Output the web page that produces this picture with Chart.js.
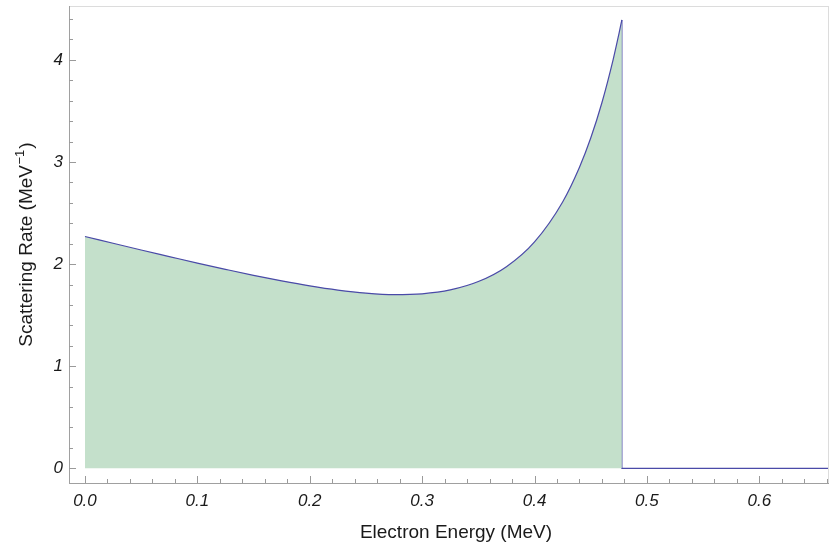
<!DOCTYPE html>
<html>
<head>
<meta charset="utf-8">
<script src="https://cdn.jsdelivr.net/npm/chart.js@4/dist/chart.umd.min.js"></script>
<style>html,body{margin:0;padding:0;background:#fff;}canvas{display:block;}</style>
</head>
<body>
<canvas id="c" width="829" height="546"></canvas>
<script>
// Curve (Electron Energy in MeV, Scattering Rate in MeV^-1)
const energies = [0, 0.025, 0.05, 0.075, 0.1, 0.125, 0.15, 0.175, 0.2, 0.225, 0.25, 0.275, 0.3, 0.325, 0.35, 0.375, 0.4, 0.425, 0.44, 0.45, 0.46, 0.47, 0.475, 0.4777];
const rates    = [2.27, 2.204, 2.138, 2.074, 2.010, 1.949, 1.890, 1.836, 1.787, 1.746, 1.716, 1.701, 1.709, 1.747, 1.829, 1.975, 2.218, 2.609, 2.949, 3.235, 3.583, 4.006, 4.251, 4.392];
// Compton edge drop and zero tail
const edgeEnergies = [0.4777, 0.4777, 0.662];
const edgeRates    = [4.392, 0, 0];
// Tick labels
const xTickValues = [0, 0.1, 0.2, 0.3, 0.4, 0.5, 0.6];
const yTickValues = [0, 1, 2, 3, 4];
const xMinorStep = 0.02;
const yMinorStep = 0.2;
const xTitle = 'Electron Energy (MeV)';
const yTitleMain = 'Scattering Rate (MeV';
const yTitleSup = '\u22121';
const yTitleEnd = ')';

const curveData = energies.map((e, i) => ({x: e, y: rates[i]}));
const edgeData = edgeEnergies.map((e, i) => ({x: e, y: edgeRates[i]}));

const FONT = "'Liberation Sans', Arial, Helvetica, sans-serif";

const framePlugin = {
  id: 'frame',
  afterDraw(chart) {
    const ctx = chart.ctx;
    const a = chart.chartArea;
    const xs = chart.scales.x, ys = chart.scales.y;
    ctx.save();
    // frame
    ctx.lineWidth = 1;
    ctx.strokeStyle = '#dcdcdc';
    ctx.beginPath();
    ctx.moveTo(a.left, a.top + 0.5); ctx.lineTo(a.right, a.top + 0.5);
    ctx.moveTo(a.right - 0.5, a.top); ctx.lineTo(a.right - 0.5, a.bottom);
    ctx.stroke();
    ctx.strokeStyle = '#a0a0a0';
    ctx.beginPath();
    ctx.moveTo(a.left + 0.5, a.top); ctx.lineTo(a.left + 0.5, a.bottom);
    ctx.moveTo(a.left, a.bottom + 0.5); ctx.lineTo(a.right, a.bottom + 0.5);
    ctx.stroke();
    // ticks (inward)
    ctx.strokeStyle = '#9a9a9a';
    ctx.beginPath();
    for (let k = 0; ; k++) {
      const v = k * xMinorStep;
      if (v > xs.max + 1e-9) break;
      const px = Math.round(xs.getPixelForValue(v)) + 0.5;
      const major = Math.abs(v * 10 - Math.round(v * 10)) < 1e-6;
      ctx.moveTo(px, a.bottom);
      ctx.lineTo(px, a.bottom - (major ? 7 : 4));
    }
    for (let k = 0; ; k++) {
      const v = k * yMinorStep;
      if (v > ys.max + 1e-9) break;
      const py = Math.round(ys.getPixelForValue(v)) + 0.5;
      const major = Math.abs(v - Math.round(v)) < 1e-6;
      ctx.moveTo(a.left, py);
      ctx.lineTo(a.left + (major ? 7 : 4), py);
    }
    ctx.stroke();
    // x axis title
    ctx.fillStyle = '#1a1a1a';
    ctx.font = '19px ' + FONT;
    ctx.textAlign = 'center';
    ctx.textBaseline = 'middle';
    ctx.fillText(xTitle, (a.left + a.right) / 2 + 7, 533);
    // y axis title with superscript
    ctx.textBaseline = 'alphabetic';
    ctx.textAlign = 'left';
    const mainFont = '19px ' + FONT;
    const supFont = '13px ' + FONT;
    ctx.font = mainFont;
    const w1 = ctx.measureText(yTitleMain).width;
    const w3 = ctx.measureText(yTitleEnd).width;
    ctx.font = supFont;
    const w2 = ctx.measureText(yTitleSup).width + 1.5;
    const total = w1 + w2 + w3;
    const cy = (a.top + a.bottom) / 2;
    ctx.translate(32, cy);
    ctx.rotate(-Math.PI / 2);
    let x0 = -total / 2;
    ctx.font = mainFont;
    ctx.fillText(yTitleMain, x0, 0);
    ctx.font = supFont;
    ctx.fillText(yTitleSup, x0 + w1 + 0.5, -8);
    ctx.font = mainFont;
    ctx.fillText(yTitleEnd, x0 + w1 + w2, 0);
    ctx.restore();
  }
};

new Chart(document.getElementById('c'), {
  type: 'line',
  data: {
    datasets: [
      {
        data: curveData,
        borderColor: '#4a4aa8',
        borderWidth: 1.2,
        backgroundColor: '#c4e0cb',
        fill: 'origin',
        pointRadius: 0,
        cubicInterpolationMode: 'monotone'
      },
      {
        data: edgeData,
        borderColor: '#4a4aa8',
        borderWidth: 1.2,
        fill: false,
        pointRadius: 0,
        tension: 0
      }
    ]
  },
  options: {
    responsive: false,
    animation: false,
    events: [],
    layout: {padding: {top: 6, right: 0, left: 0, bottom: 0}},
    plugins: {legend: {display: false}, tooltip: {enabled: false}},
    scales: {
      x: {
        type: 'linear',
        min: -0.0142,
        max: 0.662,
        grid: {display: false, drawTicks: false},
        border: {display: false},
        afterBuildTicks: s => { s.ticks = xTickValues.map(v => ({value: v})); },
        afterFit: s => { s.height = 63; s.paddingLeft = 0; s.paddingRight = 0; },
        ticks: {
          padding: 8,
          color: '#1a1a1a',
          font: {family: FONT, size: 17, style: 'italic'},
          maxRotation: 0,
          autoSkip: false,
          callback: v => Number(v).toFixed(1)
        },
        title: {display: false}
      },
      y: {
        type: 'linear',
        min: -0.144,
        max: 4.528,
        grid: {display: false, drawTicks: false},
        border: {display: false},
        afterBuildTicks: s => { s.ticks = yTickValues.map(v => ({value: v})); },
        afterFit: s => { s.width = 69; s.paddingTop = 0; s.paddingBottom = 0; },
        ticks: {
          padding: 6,
          color: '#1a1a1a',
          font: {family: FONT, size: 17, style: 'italic'},
          autoSkip: false,
          callback: v => String(v)
        },
        title: {display: false}
      }
    }
  },
  plugins: [framePlugin]
});
</script>
</body>
</html>
